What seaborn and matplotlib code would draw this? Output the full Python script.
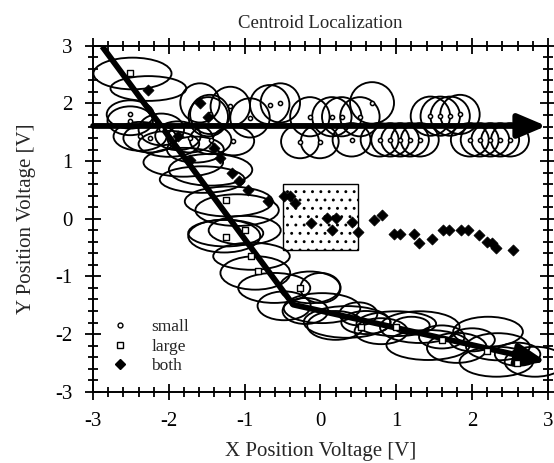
import pandas as pd
import matplotlib
matplotlib.use('Agg')
import matplotlib.pyplot as plt
from matplotlib.patches import Ellipse, Rectangle
from matplotlib.lines import Line2D
from matplotlib.ticker import MultipleLocator
import seaborn as sns

# --- marker positions ---
small_x = [-2.51, -2.51, -2.38, -2.25, -2.10, -1.72, -1.45, -1.15,
           -1.46, -1.19, -0.93, -0.67, -0.53, -0.14, 0.15, 0.28, 0.52, 0.68,
           1.45, 1.58, 1.71, 1.84,
           -0.27, -0.01, 0.41, 0.78, 0.92, 1.05, 1.18, 1.31,
           1.97, 2.10, 2.24, 2.37, 2.50]
small_y = [1.81, 1.70, 1.43, 1.40, 1.55, 1.40, 1.37, 1.35,
           1.81, 1.95, 1.75, 1.98, 2.01, 1.77, 1.77, 1.77, 1.77, 2.01,
           1.78, 1.78, 1.78, 1.81,
           1.34, 1.34, 1.37, 1.37, 1.37, 1.37, 1.37, 1.37,
           1.37, 1.37, 1.37, 1.37, 1.37]
small_w = [0.62, 0.60, 0.70, 0.70, 0.60, 0.60, 0.55, 0.55,
           0.52, 0.52, 0.52, 0.52, 0.52, 0.52, 0.52, 0.52, 0.52, 0.58,
           0.52, 0.52, 0.52, 0.52,
           0.50, 0.50, 0.50, 0.50, 0.50, 0.50, 0.50, 0.50,
           0.50, 0.50, 0.50, 0.50, 0.50]
small_h = [0.49, 0.50, 0.50, 0.50, 0.55, 0.50, 0.50, 0.50,
           0.68, 0.68, 0.68, 0.68, 0.68, 0.68, 0.68, 0.68, 0.68, 0.72,
           0.68, 0.68, 0.68, 0.68,
           0.58, 0.58, 0.58, 0.58, 0.58, 0.58, 0.58, 0.58,
           0.58, 0.58, 0.58, 0.58, 0.58]

large_x = [-2.51, -1.24, -1.00, -1.25, -0.92, -0.83, -0.27, 0.54, 1.00, 1.60, 2.20, 2.59]
large_y = [2.53, 0.33, -0.19, -0.32, -0.65, -0.90, -1.20, -1.87, -1.87, -2.10, -2.30, -2.51]

both_x = [-2.27, -1.88, -1.59, -1.48, -1.72, -1.40, -1.33, -1.17, -1.08, -0.95, -0.69,
          -0.48, -0.40, -0.34, -0.13, 0.08, 0.15, 0.21, 0.42, 0.49,
          0.70, 0.81, 0.97, 1.05, 1.23, 1.30, 1.47, 1.61, 1.70, 1.86, 1.95,
          2.09, 2.19, 2.26, 2.32, 2.54]
both_y = [2.24, 1.44, 2.01, 1.77, 1.02, 1.23, 1.05, 0.79, 0.65, 0.50, 0.30,
          0.40, 0.40, 0.28, -0.07, 0.01, -0.19, 0.01, -0.05, -0.23,
          -0.02, 0.06, -0.27, -0.27, -0.27, -0.42, -0.35, -0.20, -0.20, -0.20, -0.20,
          -0.28, -0.40, -0.42, -0.51, -0.55]

# --- uncertainty ellipses along the two trajectories ---
diag_ex = [-2.48, -2.27, -1.88, -1.59, -1.48, -1.81, -1.56, -1.45, -1.21, -1.10,
           -1.27, -1.25, -1.00, -0.91, -0.86, -0.61, -0.48, -2.00, -1.65]
diag_ey = [2.52, 2.26, 1.44, 2.01, 1.77, 0.98, 0.68, 0.85, 0.30, 0.15,
           -0.30, -0.25, -0.20, -0.65, -0.94, -1.20, -1.51, 1.30, 1.20]
diag_ew = [1.03, 1.00, 0.60, 0.52, 0.52, 1.05, 1.12, 1.10, 1.16, 1.10,
           0.95, 0.99, 0.95, 1.01, 0.92, 0.95, 0.70, 0.80, 0.75]
diag_eh = [0.55, 0.43, 0.50, 0.68, 0.68, 0.50, 0.46, 0.55, 0.52, 0.55,
           0.57, 0.46, 0.50, 0.47, 0.58, 0.52, 0.50, 0.45, 0.45]

low_ex = [0.00, -0.14, 0.02, 0.35, 0.20, 0.60, 1.00, 1.20, 1.31, 1.42, 1.80,
          2.21, 2.34, 2.32, 2.83, 0.80, 1.60, 2.00, 2.60, 0.50, -0.20]
low_ey = [-1.20, -1.19, -1.55, -1.79, -1.85, -1.80, -1.82, -1.85, -1.88, -2.19, -2.24,
          -1.96, -2.22, -2.48, -2.48, -1.95, -2.05, -2.10, -2.35, -1.65, -1.60]
low_ew = [0.53, 0.80, 1.01, 1.14, 0.75, 0.65, 1.05, 0.48, 1.05, 1.10, 0.79,
          0.92, 0.84, 0.97, 0.80, 0.70, 0.60, 0.60, 0.60, 0.50, 0.60]
low_eh = [0.52, 0.55, 0.52, 0.55, 0.50, 0.40, 0.43, 0.30, 0.55, 0.52, 0.52,
          0.52, 0.47, 0.52, 0.52, 0.45, 0.40, 0.40, 0.40, 0.40, 0.45]

# --- reference trajectories and the stippled region ---
diag_x = [-2.88, -0.36, 2.98]
diag_y = [2.99, -1.49, -2.48]
horiz_x = [-3.0, 2.98]
horiz_y = [1.61, 1.61]
box_x = [-0.5, 0.5]
box_y = [-0.55, 0.60]

sns.set_style('ticks')
plt.rcParams['font.family'] = ['Liberation Serif', 'DejaVu Serif']
plt.rcParams['axes.unicode_minus'] = False
plt.rcParams['hatch.linewidth'] = 0.9

fig = plt.figure(figsize=(5.54, 4.63), dpi=100)
ax = fig.add_axes([0.168, 0.154, 0.821, 0.747])

# stippled box
ax.add_patch(Rectangle((box_x[0], box_y[0]), box_x[1] - box_x[0], box_y[1] - box_y[0],
                       facecolor='white', edgecolor='black', lw=1.0, hatch='..', zorder=1))

ell_x = small_x + diag_ex + low_ex
ell_y = small_y + diag_ey + low_ey
ell_w = small_w + diag_ew + low_ew
ell_h = small_h + diag_eh + low_eh
for ex, ey, ew, eh in zip(ell_x, ell_y, ell_w, ell_h):
    ax.add_patch(Ellipse((ex, ey), ew, eh, fill=False, edgecolor='black',
                         lw=1.35, zorder=2, clip_on=False))

# thick trajectories
ax.plot(diag_x[:2], diag_y[:2], color='black', lw=4.2, solid_capstyle='butt', zorder=4)
ax.annotate('', xy=(diag_x[2], diag_y[2]), xytext=(diag_x[1], diag_y[1]),
            arrowprops=dict(arrowstyle='-|>,head_length=0.85,head_width=0.33',
                            mutation_scale=20, lw=4.2, color='black',
                            shrinkA=0, shrinkB=0), zorder=4)
ax.annotate('', xy=(horiz_x[1], horiz_y[1]), xytext=(horiz_x[0], horiz_y[0]),
            arrowprops=dict(arrowstyle='-|>,head_length=0.85,head_width=0.36',
                            mutation_scale=20, lw=4.2, color='black',
                            shrinkA=0, shrinkB=0), zorder=4)

pts = pd.DataFrame({
    'x': small_x + large_x + both_x,
    'y': small_y + large_y + both_y,
    'kind': ['small'] * len(small_x) + ['large'] * len(large_x) + ['both'] * len(both_x),
})
sns.scatterplot(data=pts[pts.kind == 'small'], x='x', y='y', marker='o', s=9,
                facecolor='white', edgecolor='black', linewidth=1.1, ax=ax,
                legend=False, zorder=5)
sns.scatterplot(data=pts[pts.kind == 'large'], x='x', y='y', marker='s', s=22,
                facecolor='white', edgecolor='black', linewidth=1.0, ax=ax,
                legend=False, zorder=5)
sns.scatterplot(data=pts[pts.kind == 'both'], x='x', y='y', marker='D', s=32,
                color='black', edgecolor='black', linewidth=0.5, ax=ax,
                legend=False, zorder=5)

ax.set_xlim(-3, 3)
ax.set_ylim(-3, 3)
ax.xaxis.set_major_locator(MultipleLocator(1))
ax.yaxis.set_major_locator(MultipleLocator(1))
ax.xaxis.set_minor_locator(MultipleLocator(0.2))
ax.yaxis.set_minor_locator(MultipleLocator(0.2))
ax.tick_params(which='both', direction='inout', top=True, right=True,
               width=1.3, colors='black', labelsize=15)
ax.tick_params(which='major', length=11)
ax.tick_params(which='minor', length=7)
ax.tick_params(axis='x', which='major', pad=9)
ax.tick_params(axis='y', which='major', pad=9)
for sp in ax.spines.values():
    sp.set_linewidth(1.4)
    sp.set_color('black')

ax.set_xlabel('X Position Voltage [V]', fontsize=15, labelpad=8)
ax.set_ylabel('Y Position Voltage [V]', fontsize=15, labelpad=14)
ax.set_title('Centroid Localization', fontsize=13.5, pad=13)

handles = [
    Line2D([], [], ls='', marker='o', ms=3.5, mfc='white', mec='black', mew=1.0),
    Line2D([], [], ls='', marker='s', ms=4.5, mfc='white', mec='black', mew=1.0),
    Line2D([], [], ls='', marker='D', ms=5.5, mfc='black', mec='black'),
]
ax.legend(handles, ['small', 'large', 'both'], loc='lower left',
          bbox_to_anchor=(0.025, 0.03), frameon=False, fontsize=12.5,
          handletextpad=1.3, labelspacing=0.2, borderaxespad=0, handlelength=1.0)

plt.savefig('out.png', dpi=100)
